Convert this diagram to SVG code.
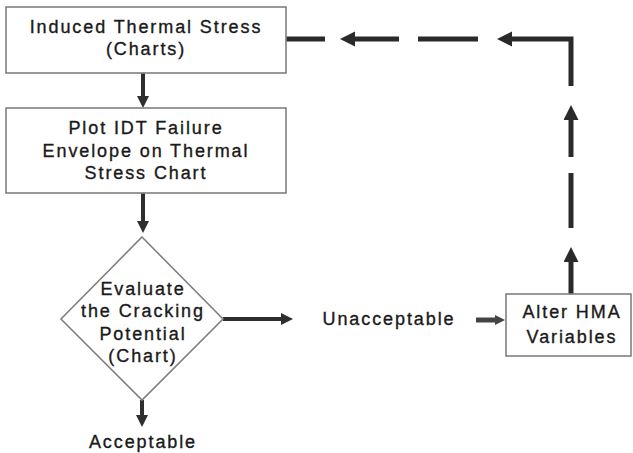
<svg xmlns="http://www.w3.org/2000/svg" width="633" height="453" viewBox="0 0 633 453">
<style>
.box{fill:#fff;stroke:#808080;stroke-width:1.6}
.t{font-family:"Liberation Sans",Arial,sans-serif;font-size:18px;letter-spacing:1.9px;fill:#1a1a1a;stroke:#1a1a1a;stroke-width:0.35;text-anchor:middle}
.flow{stroke:#2e2e2e;stroke-width:4;fill:none}
.loop{stroke:#2a2a2a;stroke-width:5;fill:none;stroke-linejoin:miter}
</style>
<defs>
<marker id="big" markerUnits="userSpaceOnUse" markerWidth="16" markerHeight="16" refX="0" refY="7.5" orient="auto">
<path d="M0,0 L15,7.5 L0,15 z" fill="#2a2a2a"/>
</marker>
<marker id="small" markerUnits="userSpaceOnUse" markerWidth="13" markerHeight="13" refX="0" refY="6" orient="auto">
<path d="M0,0 L12,6 L0,12 z" fill="#2e2e2e"/>
</marker>
<marker id="stub" markerUnits="userSpaceOnUse" markerWidth="11" markerHeight="11" refX="0" refY="5" orient="auto">
<path d="M0,0 L10,5 L0,10 z" fill="#444"/>
</marker>
</defs>
<rect width="633" height="453" fill="#fff"/>
<g id="connectors">
<line class="flow" x1="143" y1="73" x2="143" y2="96" marker-end="url(#small)"/>
<line class="flow" x1="143" y1="193" x2="143" y2="221" marker-end="url(#small)"/>
<line class="flow" x1="142" y1="400" x2="142" y2="415" marker-end="url(#small)"/>
<line class="flow" x1="223" y1="319" x2="281" y2="319" marker-end="url(#small)"/>
<line x1="476" y1="320" x2="495" y2="320" stroke="#444" stroke-width="5" marker-end="url(#stub)"/>
<line class="loop" x1="571" y1="294" x2="571" y2="262" marker-end="url(#big)"/>
<line class="loop" x1="571" y1="228" x2="571" y2="173"/>
<line class="loop" x1="571" y1="157" x2="571" y2="120" marker-end="url(#big)"/>
<polyline class="loop" points="571,86 571,39 512,39" marker-end="url(#big)"/>
<line class="loop" x1="478" y1="39" x2="418" y2="39"/>
<line class="loop" x1="399" y1="39" x2="355" y2="39" marker-end="url(#big)"/>
<line class="loop" x1="325" y1="39" x2="286" y2="39"/>
</g>
<g id="induced">
<rect class="box" x="6" y="7" width="280" height="66"/>
<text class="t" x="146" y="33">Induced Thermal Stress</text>
<text class="t" x="146" y="55">(Charts)</text>
</g>
<g id="plot">
<rect class="box" x="6" y="108" width="280" height="85"/>
<text class="t" x="146" y="134">Plot IDT Failure</text>
<text class="t" x="146" y="157">Envelope on Thermal</text>
<text class="t" x="146" y="179">Stress Chart</text>
</g>
<g id="evaluate">
<polygon class="box" points="142,237 223,319 142,400 61,319"/>
<text class="t" x="143" y="295">Evaluate</text>
<text class="t" x="143" y="317">the Cracking</text>
<text class="t" x="143" y="340">Potential</text>
<text class="t" x="143" y="362">(Chart)</text>
</g>
<g id="acceptable">
<text class="t" x="143" y="448">Acceptable</text>
</g>
<g id="unacceptable">
<text class="t" x="389" y="325">Unacceptable</text>
</g>
<g id="alter">
<rect class="box" x="506" y="294" width="125" height="62"/>
<text class="t" x="572" y="318">Alter HMA</text>
<text class="t" x="572" y="343">Variables</text>
</g>
</svg>
